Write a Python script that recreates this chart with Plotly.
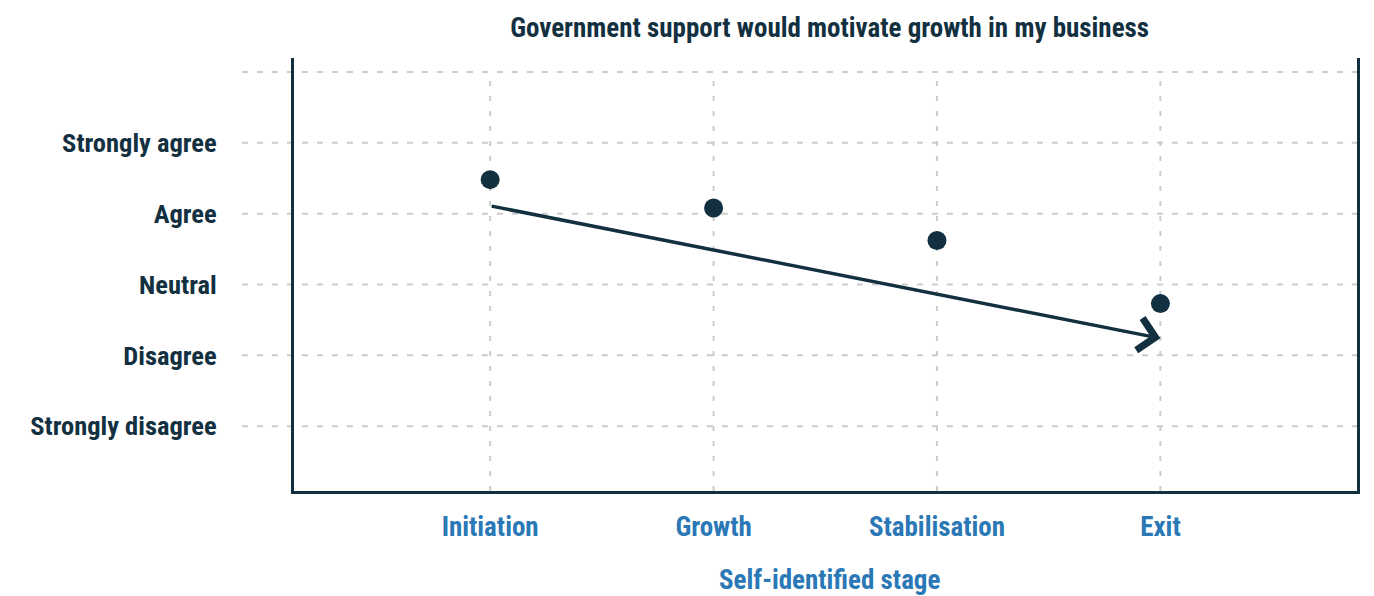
import plotly.graph_objects as go

stages = ["Initiation", "Growth", "Stabilisation", "Exit"]
scores = [4.48, 4.08, 3.62, 2.73]
y_labels = ["Strongly disagree", "Disagree", "Neutral", "Agree", "Strongly agree"]
y_vals = [1, 2, 3, 4, 5]
y_grid = [1, 2, 3, 4, 5, 6]
arrow_start = 4.11
arrow_end = 2.24

NAVY = "#12303f"
BLUE = "#2a78b5"
GRID = "#cccccc"
FONT = "Liberation Sans Narrow, Roboto Condensed, Roboto, sans-serif"

x_idx = list(range(len(stages)))
x_range = [-0.878, 3.88]
y_range = [0.085, 6.197]

fig = go.Figure()
fig.add_trace(go.Scatter(
    x=x_idx, y=scores, mode="markers",
    marker=dict(size=19, color=NAVY),
    showlegend=False, hoverinfo="skip",
))

shapes = []
for g in y_grid:
    shapes.append(dict(type="line", xref="paper", yref="y", x0=-0.049, x1=1.02, y0=g, y1=g,
                       line=dict(color=GRID, width=2, dash="6px,9px"), layer="below"))
for xi in x_idx:
    shapes.append(dict(type="line", xref="x", yref="y", x0=xi, x1=xi, y0=y_range[0], y1=y_grid[-1],
                       line=dict(color=GRID, width=2, dash="5px,10px"), layer="below"))

fig.update_layout(
    width=1374, height=596,
    margin=dict(l=286, r=25, t=50, b=113),
    paper_bgcolor="white", plot_bgcolor="white",
    shapes=shapes,
    title=dict(text="<b>Government support would motivate growth in my business</b>",
               x=0.598, xanchor="center", y=0.968, yanchor="middle",
               font=dict(family=FONT, size=27, color=NAVY)),
    xaxis=dict(range=x_range, tickvals=x_idx, ticktext=[f"<b>{s}</b>" for s in stages],
               showgrid=False, zeroline=False, showline=True, linecolor=NAVY, linewidth=3,
               mirror=False, ticks="", ticklabelstandoff=10, automargin=False,
               tickfont=dict(family=FONT, size=27, color=BLUE)),
    yaxis=dict(range=y_range, tickvals=y_vals, ticktext=[f"<b>{s}</b>" for s in y_labels],
               showgrid=False, zeroline=False, showline=True, linecolor=NAVY, linewidth=3,
               mirror=True, ticks="", ticklabelstandoff=69, automargin=False,
               tickfont=dict(family=FONT, size=26.5, color=NAVY)),
)

# x-axis title
fig.add_annotation(
    text="<b>Self-identified stage</b>", xref="paper", yref="paper",
    x=0.504, y=-0.2055, xanchor="center", yanchor="middle", showarrow=False,
    font=dict(family=FONT, size=27, color=BLUE),
)

fig.add_annotation(
    x=x_idx[-1], y=arrow_end, ax=x_idx[0], ay=arrow_start,
    xref="x", yref="y", axref="x", ayref="y",
    text="", showarrow=True, arrowhead=4, arrowsize=1.8, arrowwidth=3.5,
    arrowcolor=NAVY, standoff=0,
)

fig.write_html("out.html")
